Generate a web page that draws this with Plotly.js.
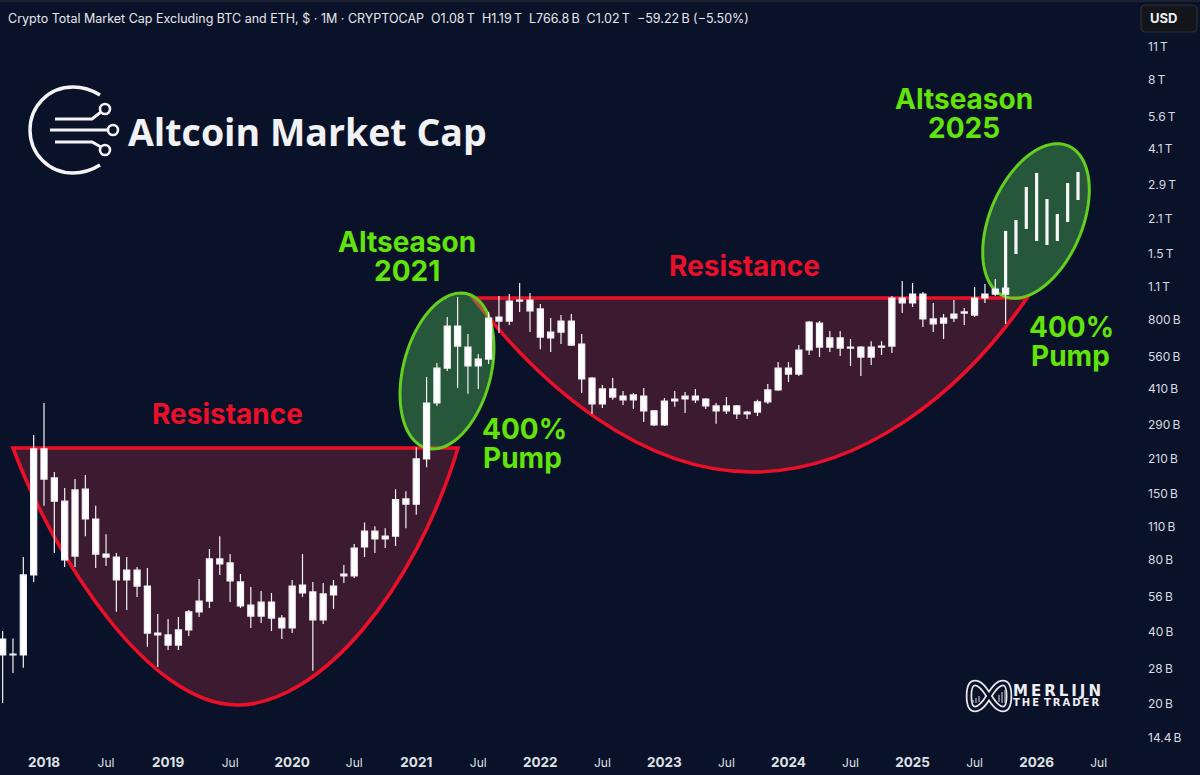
<!DOCTYPE html>
<html><head><meta charset="utf-8">
<script src="https://cdn.plot.ly/plotly-3.0.1.min.js"></script>
<style>html,body{margin:0;padding:0;background:#0a1229;overflow:hidden}#c{width:1200px;height:775px}</style>
</head><body><div id="c"></div>
<script>
// Monthly bars, $ billions. First bar = Sep 2017 (month index -4), index 0 = Jan 2018.
const firstMonth = -4;
const open  = [37.3,32.0,32.0,69.0,231,175,140,82.7,157,118,84.3,81.9,65.7,72.3,62.0,39.5,38.8,35.2,40.7,48.4,53.7,80.4,77.4,64.5,51.7,46.5,53.2,45.6,41.5,62.6,58.6,44.8,56.9,68.3,68.3,90.2,105,97.4,100,143,136,210,359,502,751,614,512,547,819,788,955,964,885,670,709,788,632,456,356,411,384,370,384,333,291,366,373,384,373,349,333,349,323,329,363,407,502,474,597,773,614,670,608,614,558,614,620,983,937,1021,804,773,811,851,835,983,1021,1080];
const high  = [40.3,37.5,81.9,264,359,185,159,173,180,134,102,85.2,81.9,74.5,73.7,47.4,45.2,46.1,49.3,66.4,88.5,100,84.3,69.6,61.5,59.1,58.0,47.0,65.7,84.3,64.5,63.9,65.7,75.9,92.8,114,110,108,157,154,235,461,527,819,993,696,574,860,1002,1021,1135,1031,928,811,835,843,696,461,427,456,403,395,415,336,377,403,399,411,377,359,380,352,333,370,431,532,532,626,788,788,716,716,663,620,650,650,1002,1157,1135,1041,937,843,964,893,1092,1124,1180,1190];
const low   = [20.2,26.9,28.3,64.5,134,85.2,74.5,74.5,100,73.7,75.2,48.4,49.3,55.8,34.6,28.5,33.6,33.6,38.4,46.1,50.2,69.0,53.2,50.2,41.5,43.5,40.3,37.3,39.5,55.8,27.5,43.1,49.8,63.9,67.0,81.9,85.2,89.3,91.1,108,123,194,349,488,415,392,411,522,702,758,860,709,602,585,632,620,395,323,342,370,352,339,299,288,288,346,326,359,339,294,323,308,308,317,356,403,439,465,569,558,585,563,512,465,517,569,580,851,902,744,709,663,781,758,819,937,1002,766.8];
const close = [32.0,32.3,69.0,231,173,140,79.6,156,118,84.3,81.9,65.7,72.3,62.0,39.5,38.8,35.2,40.7,48.4,53.7,80.4,76.6,65.1,51.2,46.5,53.2,45.6,41.5,62.0,58.0,44.8,57.5,62.0,69.6,89.3,105,97.4,100.2,142,136,210,359,502,751,620,512,547,811,788,955,964,868,676,709,788,626,452,356,411,380,370,388,333,291,366,373,384,370,349,333,349,323,329,363,407,502,474,597,781,614,670,608,614,558,614,620,983,937,1021,804,766,811,843,860,983,1021,1072,1020];
// Thin projected range bars inside the 2025 ellipse
const projMonths = [93,94,95,96,97,98,99,100];
const projHigh = [1871,2078,2853,3263,2542,2201,2964,3294];
const projLow  = [1080,1500,1907,1699,1635,1699,2039,2518];
// Axis labels
const priceTicks = [11000,8000,5600,4100,2900,2100,1500,1100,800,560,410,290,210,150,110,80,56,40,28,20,14.4];
const priceLabels = ["11\u2009T","8\u2009T","5.6\u2009T","4.1\u2009T","2.9\u2009T","2.1\u2009T","1.5\u2009T","1.1\u2009T","800\u2009B","560\u2009B","410\u2009B","290\u2009B","210\u2009B","150\u2009B","110\u2009B","80\u2009B","56\u2009B","40\u2009B","28\u2009B","20\u2009B","14.4\u2009B"];
const monthTicks = [0,6,12,18,24,30,36,42,48,54,60,66,72,78,84,90,96,102];
const yr=t=>'<span style="font-size:13.5px"><b>'+t+'</b></span>';
const monthLabels = [yr("2018"),"Jul",yr("2019"),"Jul",yr("2020"),"Jul",yr("2021"),"Jul",yr("2022"),"Jul",yr("2023"),"Jul",yr("2024"),"Jul",yr("2025"),"Jul",yr("2026"),"Jul"];

const W=1142,H=750;
const X=p=>p/W, Y=p=>1-p/H;
const path=segs=>segs.map(s=>s[0]+' '+s.slice(1).map((v,i)=>(i%2?Y(v):X(v)).toFixed(5)).join(' ')).join(' ');
const ellipse=(cx,cy,a,b,deg)=>{const th=deg*Math.PI/180,s=[];for(let k=0;k<=96;k++){const t=k/96*2*Math.PI;
  s.push([k?'L':'M',cx+a*Math.cos(t)*Math.sin(th)+b*Math.sin(t)*Math.cos(th),cy-a*Math.cos(t)*Math.cos(th)+b*Math.sin(t)*Math.sin(th)]);}
  return path(s)+' Z';};
const shp=(d,line,width,fill,layer)=>({type:'path',xref:'paper',yref:'paper',path:d,layer:layer||'below',fillcolor:fill||'rgba(0,0,0,0)',line:{color:line,width:width}});

const RED='#ea1029',GRN='#63d020',TXT='#60e40c';
const cup1=path([['M',13,448],['L',458,448],['C',415,590,320,705,237,705],['C',150,705,55,560,13,448]])+' Z';
const cup2=path([['M',473,298],['L',1027,298],['C',960,395,860,472,752,472],['C',640,472,540,385,473,298]])+' Z';
const infinity=path([['M',989,696],['C',984,688,980,683,975,683],['C',970,683,969,690,969,696],['C',969,702,970,709,975,709],['C',980,709,984,704,989,696],['C',994,688,998,683,1003,683],['C',1008,683,1009,690,1009,696],['C',1009,702,1008,709,1003,709],['C',998,709,994,704,989,696]])+' Z';
const shapes=[
 shp(path([['M',0,1],['L',1200,1]]),'#1c2130',2),
 shp(cup1,RED,3.6,'#3c1b30'),
 shp(cup2,RED,3.6,'#3c1b30'),
 shp(ellipse(447,371,79.8,43.8,14.7),GRN,3,'rgba(82,193,88,0.4)'),
 shp(ellipse(1036,221,81.8,46.1,23.3),GRN,3,'rgba(82,193,88,0.4)'),
 // USD button
 shp(path([['M',1146,5],['L',1192,5],['Q',1197,5,1197,10],['L',1197,27],['Q',1197,32,1192,32],['L',1146,32],['Q',1141,32,1141,27],['L',1141,10],['Q',1141,5,1146,5]])+' Z','#2d3037',1.2,'#13151b'),
 // Altcoin logo
 shp(path([['M',100,95],['C',92,90,84,87,73,87],['C',49,87,30,106,30,130],['C',30,154,49,173,73,173],['C',84,173,92,170,100,165]]),'#f4f4f6',3.4),
 shp(path([['M',55,119],['L',92,119],['L',101,112]]),'#f4f4f6',3),
 shp(path([['M',50,130],['L',108,130]]),'#f4f4f6',3),
 shp(path([['M',55,142],['L',92,142],['L',101,147]]),'#f4f4f6',3),
 ...[[105,109],[113,130],[105,150]].map(c=>({type:'circle',xref:'paper',yref:'paper',x0:X(c[0]-5),x1:X(c[0]+5),y0:Y(c[1]+5),y1:Y(c[1]-5),layer:'below',line:{color:'#f4f4f6',width:2.6},fillcolor:'#0a1229'})),
 // Merlijn logo
 shp(infinity,'#e6e6ea',6.5),
 shp(infinity,'#0a1229',3),
 shp(path([['M',973,703],['L',973,700],['M',976,703],['L',976,698],['M',979,702],['L',979,696]]),'#b9bbc2',1.2),
 shp(path([['M',999,702],['L',999,695],['M',1002,703],['L',1002,692],['M',1005,703],['L',1005,690]]),'#b9bbc2',1.2),
];

const note=(t,px,py,size,color,opt)=>Object.assign({xref:'paper',yref:'paper',x:X(px),y:Y(py),text:t,showarrow:false,xanchor:'center',yanchor:'middle',
  font:{family:'Inter, sans-serif',size:size,color:color},align:'center'},opt||{});
const sp=s=>s.split('').join('\u2009');
const annotations=[
 note('Crypto Total Market Cap Excluding BTC and ETH, $ · 1M · CRYPTOCAP\u00a0\u00a0O1.08\u2009T\u00a0\u00a0H1.19\u2009T\u00a0\u00a0L766.8\u2009B\u00a0\u00a0C1.02\u2009T\u00a0\u00a0−59.22\u2009B (−5.50%)',6,19,12.5,'#e6e7ec',{xanchor:'left'}),
 note('<b>USD</b>',1163.5,18,13,'#eceded'),
 note('<b>Resistance</b>',228,414,28,RED),
 note('<b>Resistance</b>',744,266,28,RED),
 note('<b>Altseason</b>',407,242,28,TXT),
 note('<b>2021</b>',407,271,28,TXT),
 note('<b>400%</b>',524,429,28,TXT),
 note('<b>Pump</b>',522,458,28,TXT),
 note('<b>Altseason</b>',964,99,28,TXT),
 note('<b>2025</b>',964,128,28,TXT),
 note('<b>400%</b>',1071,327,28,TXT),
 note('<b>Pump</b>',1070,356,28,TXT),
 note('<b>Altcoin Market Cap</b>',126,132,37.5,'#f2f2f4',{xanchor:'left',font:{family:'Open Sans, sans-serif',size:37.5,color:'#f2f2f4'}}),
 note('<b>'+sp('MERLIJN')+'</b>',1011,691,15,'#eeeef0',{xanchor:'left',font:{family:'DejaVu Sans, sans-serif',size:15,color:'#eeeef0'}}),
 note('<b>'+sp('THE')+'\u2002'+sp('TRADER')+'</b>',1011,702,10,'#eeeef0',{xanchor:'left',font:{family:'DejaVu Sans, sans-serif',size:10,color:'#eeeef0'}}),
];

const months=open.map((_,i)=>firstMonth+i);
const px=[],py=[];
projMonths.forEach((m,i)=>{px.push(m,m,null);py.push(projLow[i],projHigh[i],null);});
const traces=[
 {type:'candlestick',x:months,open:open,high:high,low:low,close:close,
  increasing:{line:{color:'#f3f1f5',width:1.2},fillcolor:'#ffffff'},
  decreasing:{line:{color:'#f3f1f5',width:1.2},fillcolor:'#ffffff'},hoverinfo:'none',showlegend:false},
 {type:'scatter',mode:'lines',x:px,y:py,line:{color:'#f6f6f6',width:3.2},hoverinfo:'none',showlegend:false}
];
const layout={
 width:1200,height:775,margin:{l:0,r:58,t:0,b:25},paper_bgcolor:'#0a1229',plot_bgcolor:'#0a1229',
 showlegend:false,boxgap:0.16,
 font:{family:'Inter, sans-serif',color:'#d9dbe2',size:12},
 xaxis:{type:'linear',range:[-4.255,106.19],rangeslider:{visible:false},showgrid:false,zeroline:false,showline:false,
   tickmode:'array',tickvals:monthTicks,ticktext:monthLabels,ticks:'',ticklen:0,tickangle:0,ticklabelstandoff:4,tickfont:{size:12,color:'#dfe1e7'}},
 yaxis:{type:'log',side:'right',range:[1.1093,4.2343],showgrid:false,zeroline:false,showline:false,
   tickmode:'array',tickvals:priceTicks,ticktext:priceLabels,ticks:'',tickfont:{size:12,color:'#d9dbe2'},ticklabelstandoff:5},
 shapes:shapes,annotations:annotations
};
Plotly.newPlot('c',traces,layout,{displayModeBar:false,staticPlot:true});
</script></body></html>
